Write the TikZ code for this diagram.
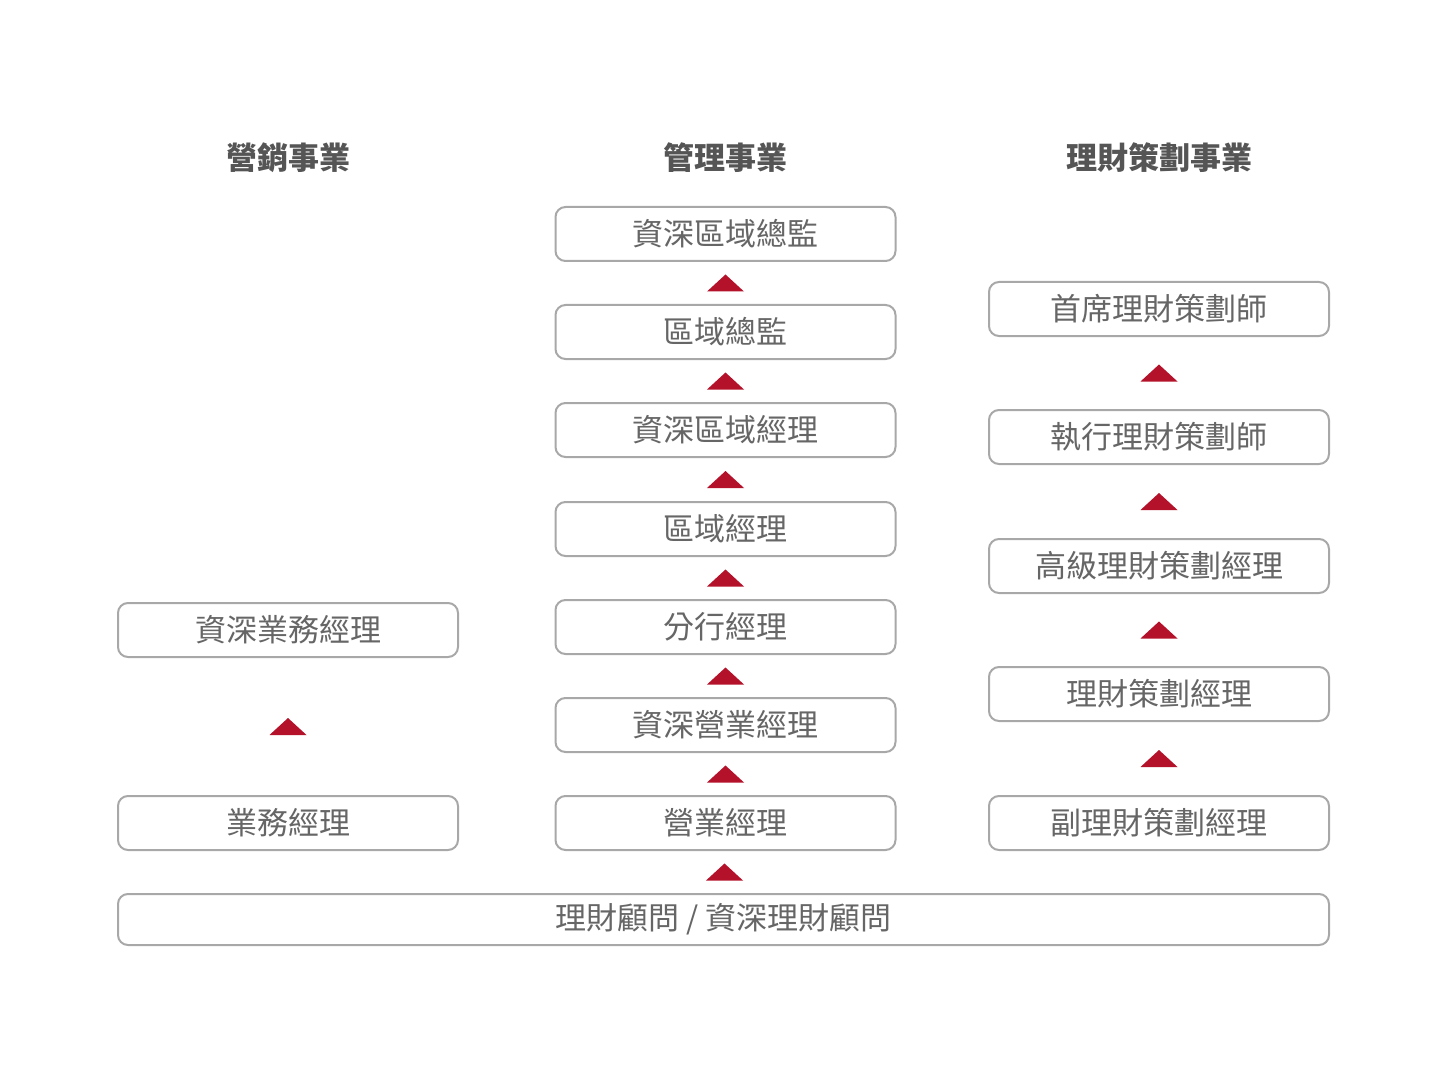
\documentclass[tikz,border=0pt]{standalone}
\usepackage{fontspec}
\newfontfamily\cjk{Noto Sans CJK TC}
\usetikzlibrary{calc}
\definecolor{boxline}{HTML}{A8A8A8}
\definecolor{boxtext}{HTML}{666666}
\definecolor{headtext}{HTML}{555555}
\definecolor{tri}{HTML}{B3122A}
\tikzset{
  rank/.style={draw=boxline, line width=1pt, rounded corners=5pt, fill=white,
    minimum width=170pt, minimum height=27pt, inner sep=0pt,
    text=boxtext, font=\cjk\fontsize{15.5pt}{17pt}\selectfont},
  wide/.style={rank, minimum width=605.5pt, minimum height=25.5pt},
  head/.style={text=headtext, font=\cjk\bfseries\fontsize{15.5pt}{17pt}\selectfont, inner sep=0pt},
  uptri/.style={fill=tri, draw=none}
}
\newcommand{\uparrowtri}[2]{%
  \fill[uptri] ($(#1.north)!0.5!(#2.south)$) ++(-18.5,8.5) -- ++(37,0) -- ++(-18.5,-17) -- cycle;}
\begin{document}
\begin{tikzpicture}[x=0.5pt,y=-0.5pt]
\useasboundingbox (0,0) rectangle (1448,1086);
% headers
\node[head] (h1) at (288,158) {營銷事業};
\node[head] (h2) at (725.5,158) {管理事業};
\node[head] (h3) at (1159,158) {理財策劃事業};
% middle column
\node[rank] (m1) at (725.5,234) {資深區域總監};
\node[rank] (m2) at (725.5,332) {區域總監};
\node[rank] (m3) at (725.5,430) {資深區域經理};
\node[rank] (m4) at (725.5,529) {區域經理};
\node[rank] (m5) at (725.5,627) {分行經理};
\node[rank] (m6) at (725.5,725) {資深營業經理};
\node[rank] (m7) at (725.5,823) {營業經理};
% left column
\node[rank] (l1) at (288,630) {資深業務經理};
\node[rank] (l2) at (288,823) {業務經理};
% right column
\node[rank] (r1) at (1159,309) {首席理財策劃師};
\node[rank] (r2) at (1159,437) {執行理財策劃師};
\node[rank] (r3) at (1159,566) {高級理財策劃經理};
\node[rank] (r4) at (1159,694) {理財策劃經理};
\node[rank] (r5) at (1159,823) {副理財策劃經理};
% bottom
\node[wide] (b) at (723.5,919.5) {理財顧問 / 資深理財顧問};
% triangles
\uparrowtri{m2}{m1}
\uparrowtri{m3}{m2}
\uparrowtri{m4}{m3}
\uparrowtri{m5}{m4}
\uparrowtri{m6}{m5}
\uparrowtri{m7}{m6}
\fill[uptri] ($(b.north)!0.5!(m7.south)$) ++(-18.5,8.5) -- ++(37,0) -- ++(-18.5,-17) -- cycle;
\uparrowtri{l2}{l1}
\uparrowtri{r2}{r1}
\uparrowtri{r3}{r2}
\uparrowtri{r4}{r3}
\uparrowtri{r5}{r4}
\end{tikzpicture}
\end{document}
